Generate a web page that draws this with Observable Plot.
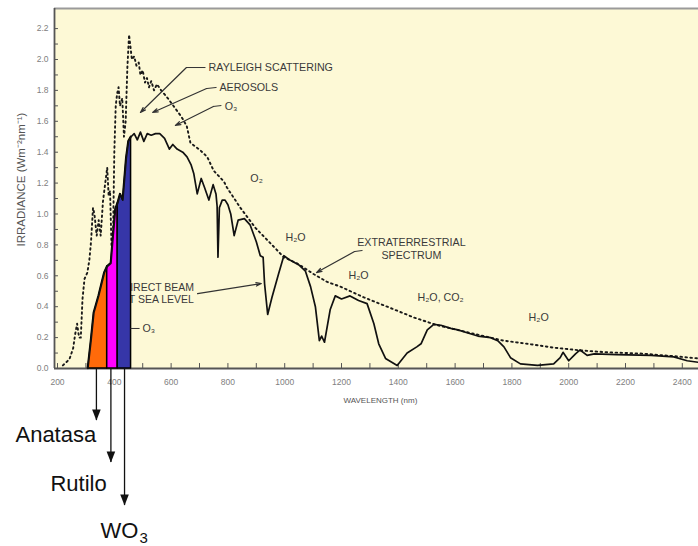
<!DOCTYPE html>
<html>
<head>
<meta charset="utf-8">
<script src="https://cdn.jsdelivr.net/npm/d3@7"></script>
<script src="https://cdn.jsdelivr.net/npm/@observablehq/plot@0.6"></script>
<style>
  html, body { margin: 0; padding: 0; background: #ffffff; }
  #chart svg { display: block; }
</style>
</head>
<body>
<div id="chart"></div>
<script>
// ---- Direct beam at sea level (solid line) ----
const beamWavelength = [307,318,328,345,365,375,388,396,404,412,421,430,442,450,459,470,481,492,504,516,530,545,560,577,594,606,621,641,656,670,680,692,706,718,733,748,758,762,765,770,780,790,800,810,822,836,858,878,900,914,924,929,940,955,978,997,1020,1050,1073,1091,1108,1122,1130,1140,1160,1178,1200,1230,1260,1290,1314,1331,1355,1396,1431,1465,1480,1502,1525,1550,1585,1610,1645,1680,1725,1750,1772,1795,1830,1890,1947,1970,1980,2000,2024,2040,2065,2090,2170,2290,2370,2417,2457];
const beamIrradiance = [0,0.18,0.36,0.47,0.62,0.66,0.68,0.86,1.03,1.07,1.13,1.09,1.36,1.47,1.50,1.52,1.48,1.53,1.47,1.52,1.51,1.52,1.52,1.49,1.42,1.45,1.42,1.40,1.37,1.32,1.26,1.13,1.23,1.17,1.09,1.19,1.13,1.05,0.72,1.04,1.09,1.09,1.06,1.00,0.86,0.96,0.97,0.93,0.82,0.73,0.72,0.55,0.35,0.46,0.61,0.73,0.70,0.67,0.63,0.53,0.40,0.18,0.21,0.17,0.38,0.47,0.45,0.47,0.44,0.42,0.29,0.16,0.065,0.02,0.10,0.14,0.16,0.25,0.285,0.28,0.26,0.25,0.23,0.21,0.20,0.18,0.14,0.07,0.03,0.02,0.03,0.07,0.105,0.05,0.095,0.12,0.085,0.095,0.09,0.085,0.075,0.05,0.04];

// ---- Extraterrestrial spectrum (dotted line) ----
const extraWavelength = [219,242,255,262,269,276,282,288,295,305,312,318,325,330,338,345,352,360,368,375,380,385,390,395,400,405,410,415,420,428,434,440,446,452,457,462,470,478,486,492,500,508,515,522,530,540,550,565,588,612,636,655,668,690,704,727,750,786,797,844,897,950,997,1044,1103,1150,1196,1279,1361,1455,1537,1654,1771,1854,1947,2042,2135,2253,2369,2457];
const extraIrradiance = [0.02,0.06,0.13,0.22,0.29,0.20,0.20,0.45,0.58,0.62,0.70,0.82,1.04,1.00,0.86,0.96,0.86,1.08,1.20,1.30,1.12,1.15,0.80,0.78,1.40,1.70,1.78,1.82,1.70,1.75,1.50,1.60,1.95,2.16,2.08,2.00,2.02,1.96,1.98,1.90,1.93,1.85,1.88,1.82,1.86,1.80,1.84,1.80,1.75,1.69,1.63,1.57,1.46,1.43,1.41,1.37,1.28,1.21,1.17,1.04,0.91,0.81,0.72,0.68,0.61,0.56,0.53,0.46,0.40,0.33,0.28,0.23,0.18,0.16,0.135,0.117,0.105,0.097,0.08,0.065];

// ---- Photocatalyst absorption bands ----
const bandNames = ["Anatasa", "Rutilo", "WO3"];
const bandStart = [307, 375, 412];
const bandEnd = [375, 412, 459];
const bandCenter = [337, 388, 436];
const bandArrowTip = [-0.337, -0.608, -0.887];

// ---- Axis ticks ----
const xTicks = d3.range(200, 2401, 100);
const xTickLabels = [200,400,600,800,1000,1200,1400,1600,1800,2000,2200,2400];
const yTicks = d3.range(0, 23).map(i => i / 10);
const yTickLabels = ["0.0","0.2","0.4","0.6","0.8","1.0","1.2","1.4","1.6","1.8","2.0","2.2"];

// ---- Annotations ----
const notesStart = [
  {text: "RAYLEIGH SCATTERING", x: 732, y: 1.948},
  {text: "AEROSOLS", x: 770, y: 1.819},
  {text: "O₃", x: 789, y: 1.696},
  {text: "O₃", x: 499, y: 0.259}
];
const notesMiddle = [
  {text: "O₂", x: 901, y: 1.23},
  {text: "H₂O", x: 1038, y: 0.848},
  {text: "EXTRATERRESTRIAL", x: 1446, y: 0.816},
  {text: "SPECTRUM", x: 1446, y: 0.731},
  {text: "H₂O", x: 1260, y: 0.602},
  {text: "H₂O, CO₂", x: 1549, y: 0.46},
  {text: "H₂O", x: 1894, y: 0.33}
];
const beamNote = [
  {text: "DIRECT BEAM", x: 429, y: 0.524},
  {text: "AT SEA LEVEL", x: 429, y: 0.447}
];
// leader lines: short horizontal stubs
const stubs = [
  {x1: 721, y1: 1.948, x2: 654, y2: 1.948},
  {x1: 760, y1: 1.819, x2: 725, y2: 1.812},
  {x1: 777, y1: 1.702, x2: 749, y2: 1.696},
  {x1: 1274, y1: 0.764, x2: 1246, y2: 0.757},
  {x1: 457, y1: 0.259, x2: 489, y2: 0.259}
];
// leader arrows
const leaders = [
  {x1: 654, y1: 1.948, x2: 492, y2: 1.657},
  {x1: 725, y1: 1.812, x2: 535, y2: 1.657},
  {x1: 749, y1: 1.696, x2: 615, y2: 1.573},
  {x1: 1246, y1: 0.757, x2: 1112, y2: 0.621},
  {x1: 693, y1: 0.485, x2: 918, y2: 0.550}
];

const beam = beamWavelength.map((w, i) => ({w, v: beamIrradiance[i]}));
const extra = extraWavelength.map((w, i) => ({w, v: extraIrradiance[i]}));
const bandColors = ["#ff6a0a", "#ff00ff", "#3636a8"];
const bandAreas = bandNames.map((name, i) =>
  beam.filter(d => d.w >= bandStart[i] && d.w <= bandEnd[i]).map(d => ({...d, band: name}))
).flat();
const bands = bandNames.map((name, i) => ({name, c: bandCenter[i], tip: bandArrowTip[i]}));

const downTriangle = {
  draw(ctx) {
    ctx.moveTo(-4.3, -11);
    ctx.lineTo(4.3, -11);
    ctx.lineTo(0, 0);
    ctx.closePath();
  }
};

const X0 = 189.4, X1 = 2457, Y1 = 2.33;
const font = "'Liberation Sans', Arial, sans-serif";
const noteColor = "#3a3a3a";
const bigFont = "Arial, 'Liberation Sans', sans-serif";

const chart = Plot.plot({
  width: 698,
  height: 546,
  marginTop: 8,
  marginLeft: 54,
  marginRight: 0,
  marginBottom: 178,
  style: {fontFamily: font, background: "#ffffff", overflow: "visible"},
  x: {domain: [X0, X1], axis: null},
  y: {domain: [0, Y1], axis: null},
  color: {domain: bandNames, range: bandColors},
  marks: [
    Plot.frame({fill: "#fdf9d6", stroke: null}),
    // frame lines
    Plot.ruleY([Y1], {stroke: "#9a9a9a", strokeWidth: 2}),
    Plot.ruleY([0], {stroke: "#555", strokeWidth: 1.8}),
    Plot.ruleX([X0], {stroke: "#555", strokeWidth: 1.8}),
    // inward ticks
    Plot.ruleX(xTicks, {x: d => d, y1: 0, y2: 0.032, stroke: "#555", strokeWidth: 1}),
    Plot.ruleY(yTicks, {y: d => d, x1: X0, x2: X0 + 14, stroke: "#555", strokeWidth: 1}),
    // tick labels
    Plot.text(xTickLabels, {x: d => d, y: 0, dy: 14, text: d => String(d), fontSize: 8.5, fill: "#808080"}),
    Plot.text(yTickLabels, {x: X0, y: d => +d, dx: -6, text: d => d, textAnchor: "end", fontSize: 8.5, fill: "#808080"}),
    // axis titles
    Plot.text(["WAVELENGTH (nm)"], {x: 1337, y: -0.205, text: d => d, fontSize: 8, fill: "#555"}),
    Plot.text(["IRRADIANCE (Wm⁻²nm⁻¹)"], {x: 72, y: 1.223, text: d => d, rotate: -90, fontSize: 11.5, fill: "#555"}),
    // label partially hidden behind the bands
    Plot.text(beamNote, {x: "x", y: "y", text: "text", textAnchor: "start", fontSize: 10.5, fill: noteColor}),
    // extraterrestrial dotted
    Plot.line(extra, {x: "w", y: "v", stroke: "#1a1a1a", strokeWidth: 1.9, strokeDasharray: "1.6,3.4"}),
    // absorption bands (not stacked)
    Plot.areaY(bandAreas, {x: "w", y1: 0, y2: "v", z: "band", fill: "band", stroke: "#000", strokeWidth: 1.5}),
    // direct beam solid
    Plot.line(beam, {x: "w", y: "v", stroke: "#111", strokeWidth: 1.7}),
    // annotations
    Plot.text(notesStart, {x: "x", y: "y", text: "text", textAnchor: "start", fontSize: 10.7, fill: noteColor}),
    Plot.text(notesMiddle, {x: "x", y: "y", text: "text", textAnchor: "middle", fontSize: 10.7, fill: noteColor}),
    Plot.link(stubs, {x1: "x1", y1: "y1", x2: "x2", y2: "y2", stroke: "#333", strokeWidth: 1}),
    Plot.arrow(leaders, {x1: "x1", y1: "y1", x2: "x2", y2: "y2", stroke: "#333", strokeWidth: 1.2, headLength: 7, headAngle: 35, bend: 0}),
    // photocatalyst arrows below the axis
    Plot.ruleX(bands, {x: "c", y1: 0, y2: "tip", stroke: "#111", strokeWidth: 1.3}),
    Plot.dot(bands, {x: "c", y: "tip", symbol: downTriangle, fill: "#111", stroke: null}),
    Plot.text(["Anatasa"], {x: 52, y: -0.477, text: d => d, textAnchor: "start", lineAnchor: "bottom", fontSize: 22, fill: "#111", fontFamily: bigFont}),
    Plot.text(["Rutilo"], {x: 175, y: -0.790, text: d => d, textAnchor: "start", lineAnchor: "bottom", fontSize: 22, fill: "#111", fontFamily: bigFont}),
    Plot.text(["WO"], {x: 351, y: -1.100, text: d => d, textAnchor: "start", lineAnchor: "bottom", fontSize: 22, fill: "#111", fontFamily: bigFont}),
    Plot.text(["3"], {x: 489, y: -1.100, dy: 5, text: d => d, textAnchor: "start", lineAnchor: "bottom", fontSize: 15, fill: "#111", fontFamily: bigFont})
  ]
});
document.getElementById("chart").appendChild(chart);
</script>
</body>
</html>
